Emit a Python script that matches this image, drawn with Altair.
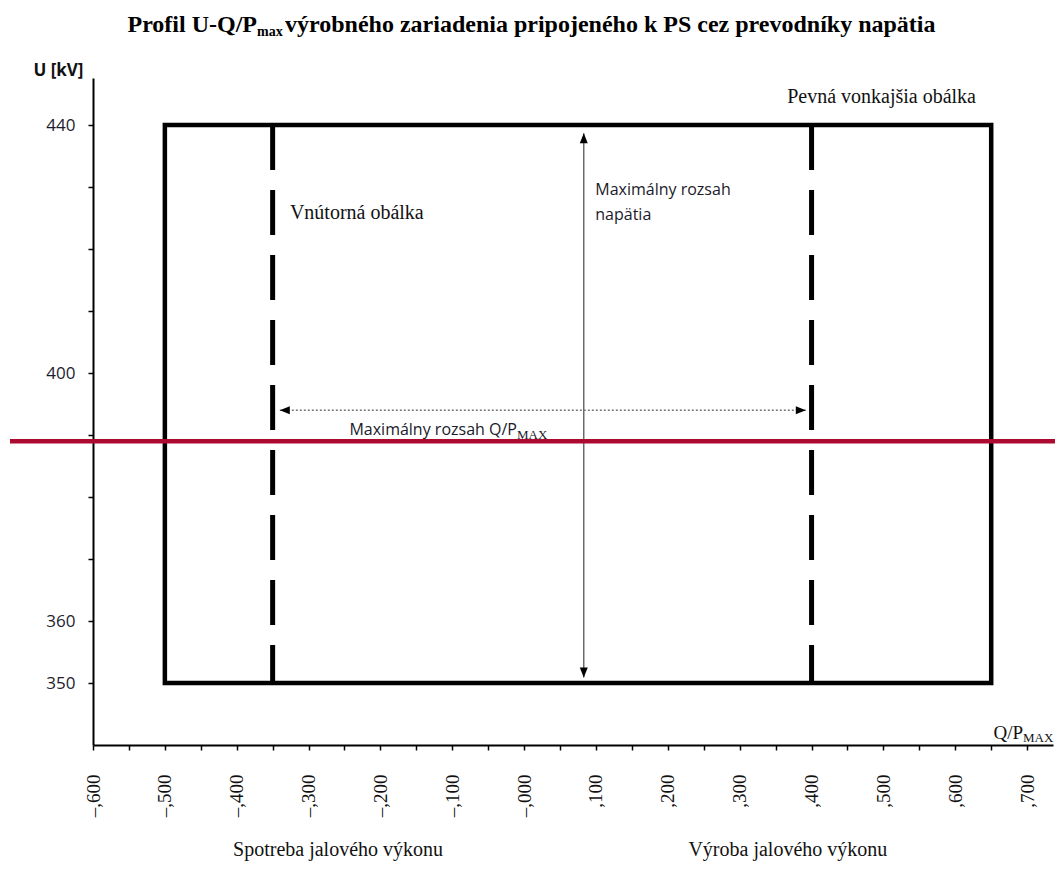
import json
import altair as alt
import pandas as pd

# ---------------- data ----------------
TITLE_MAIN = "Profil U-Q/P"
TITLE_SUB = "max"
TITLE_REST = "výrobného zariadenia pripojeného k PS cez prevodníky napätia"

Y_TICKS = [350, 360, 370, 380, 390, 400, 410, 420, 430, 440]
Y_LABELED = [440, 400, 360, 350]
X_TICKS = [-600, -550, -500, -450, -400, -350, -300, -250, -200, -150, -100, -50, 0,
           50, 100, 150, 200, 250, 300, 350, 400, 450, 500, 550, 600, 650, 700]
X_LABEL_VALUES = [-600, -500, -400, -300, -200, -100, 0, 100, 200, 300, 400, 500, 600, 700]
X_LABELS = ["–,600", "–,500", "–,400", "–,300", "–,200", "–,100", "–,000",
            ",100", ",200", ",300", ",400", ",500", ",600", ",700"]

OUTER_Q = [-500, 650]          # fixed outer envelope (Q/Pmax)
OUTER_U = [440, 350]           # fixed outer envelope (kV)
INNER_Q = [-350, 400]          # inner envelope limits
INNER_U = [440, 350]
U_ARROW_Q = [83]               # "Maximálny rozsah napätia" arrow
U_ARROW_U = [438.7, 350.9]
Q_ARROW_U = [394]              # "Maximálny rozsah Q/PMAX" arrow
Q_ARROW_Q = [-340, 392]
RED_U = [389]                  # red horizontal line

SERIF_TEXT = ["Vnútorná obálka", "Pevná vonkajšia obálka"]
SERIF_Q = [-326, 366]
SERIF_U = [425.8, 444.5]

SANS_TEXT = ["Maximálny rozsah", "napätia"]
SANS_Q = [99, 99]
SANS_U = [429.5, 425.5]

QRANGE_TEXT = ["Maximálny rozsah Q/P", "MAX"]
QRANGE_Q = [-10]
QRANGE_U = [390]

BOTTOM_TEXT = ["Spotreba jalového výkonu", "Výroba jalového výkonu"]
BOTTOM_Q = [-259, 367]

AXIS_Q_TEXT = ["Q/P", "MAX"]

W, H = 960, 667

# ---------------- scales / axes ----------------
x_scale = alt.Scale(domain=[-600, 736], nice=False, zero=False)
y_scale = alt.Scale(domain=[340, 447.6], nice=False, zero=False)

x_label_expr = (
    f"indexof({X_LABEL_VALUES}, datum.value) >= 0 ? "
    f"{json.dumps(X_LABELS, ensure_ascii=False)}[indexof({X_LABEL_VALUES}, datum.value)] : ''"
)
y_label_expr = f"indexof({Y_LABELED}, datum.value) >= 0 ? datum.label : ''"

x_axis = alt.Axis(
    values=X_TICKS, labelExpr=x_label_expr, labelAngle=270,
    labelFont="Liberation Serif", labelFontSize=19, labelColor="#111111",
    labelPadding=24, labelOverlap=False, labelFlush=False,
    tickSize=5, tickColor="black", tickWidth=1.5,
    domainColor="black", domainWidth=2, grid=False, title="",
)
y_axis = alt.Axis(
    values=Y_TICKS, labelExpr=y_label_expr,
    labelFont="Open Sans", labelFontSize=17, labelColor="#1c1c2c",
    labelPadding=13, labelOverlap=False, labelFlush=False,
    tickSize=5, tickColor="black", tickWidth=1.5,
    domainColor="black", domainWidth=2, grid=False,
    title="U [kV]", titleAngle=0, titleAlign="right", titleBaseline="middle",
    titleX=-10, titleY=-8, titleFont="Open Sans", titleFontWeight="bold",
    titleFontSize=17, titleColor="#111111",
)


def X(field):
    return alt.X(field, scale=x_scale, axis=x_axis)


def Y(field):
    return alt.Y(field, scale=y_scale, axis=y_axis)


# ---------------- layers ----------------
rect_df = pd.DataFrame({"q1": [OUTER_Q[0]], "q2": [OUTER_Q[1]],
                        "u1": [OUTER_U[0]], "u2": [OUTER_U[1]]})
outer = alt.Chart(rect_df).mark_rect(
    fillOpacity=0, stroke="black", strokeWidth=4.5, strokeJoin="miter"
).encode(x=X("q1:Q"), x2="q2:Q", y=Y("u1:Q"), y2="u2:Q")

inner_df = pd.DataFrame({"q": INNER_Q, "u1": [INNER_U[0]] * 2, "u2": [INNER_U[1]] * 2})
inner = alt.Chart(inner_df).mark_rule(
    color="black", strokeWidth=5, strokeDash=[45, 20]
).encode(x=X("q:Q"), y=Y("u1:Q"), y2="u2:Q")

red = alt.Chart(pd.DataFrame({"u": RED_U})).mark_rule(
    color="#AD0A31", strokeWidth=4.5
).encode(y=Y("u:Q"), x=alt.value(-83), x2=alt.value(W + 2))

u_line = alt.Chart(pd.DataFrame({"q": U_ARROW_Q, "u1": [U_ARROW_U[0]], "u2": [U_ARROW_U[1]]})).mark_rule(
    color="#555555", strokeWidth=1.3
).encode(x=X("q:Q"), y=Y("u1:Q"), y2="u2:Q")

q_line = alt.Chart(pd.DataFrame({"u": Q_ARROW_U, "q1": [Q_ARROW_Q[0]], "q2": [Q_ARROW_Q[1]]})).mark_rule(
    color="#777777", strokeWidth=1.6, strokeDash=[2, 2]
).encode(y=Y("u:Q"), x=X("q1:Q"), x2="q2:Q")


def arrowhead(q, u, path):
    return alt.Chart(pd.DataFrame({"q": [q], "u": [u]})).mark_point(
        shape=path, size=400, filled=True, color="black", opacity=1, strokeWidth=0
    ).encode(x=X("q:Q"), y=Y("u:Q"))


UP = "M0,0L-0.4,1L0.4,1Z"
DOWN = "M0,0L-0.4,-1L0.4,-1Z"
LEFT = "M0,0L1,-0.4L1,0.4Z"
RIGHT = "M0,0L-1,-0.4L-1,0.4Z"

heads = [
    arrowhead(U_ARROW_Q[0], U_ARROW_U[0], UP),
    arrowhead(U_ARROW_Q[0], U_ARROW_U[1], DOWN),
    arrowhead(Q_ARROW_Q[0], Q_ARROW_U[0], LEFT),
    arrowhead(Q_ARROW_Q[1], Q_ARROW_U[0], RIGHT),
]

serif_txt = alt.Chart(pd.DataFrame({"t": SERIF_TEXT, "q": SERIF_Q, "u": SERIF_U})).mark_text(
    align="left", baseline="middle", font="Liberation Serif", fontSize=20, color="#111111"
).encode(x=X("q:Q"), y=Y("u:Q"), text="t:N")

sans_txt = alt.Chart(pd.DataFrame({"t": SANS_TEXT, "q": SANS_Q, "u": SANS_U})).mark_text(
    align="left", baseline="middle", font="Open Sans", fontSize=16, color="#1a1a2a"
).encode(x=X("q:Q"), y=Y("u:Q"), text="t:N")

qrange_main = alt.Chart(pd.DataFrame({"t": [QRANGE_TEXT[0]], "q": QRANGE_Q, "u": QRANGE_U})).mark_text(
    align="right", baseline="alphabetic", font="Open Sans", fontSize=16, color="#1a1a2a"
).encode(x=X("q:Q"), y=Y("u:Q"), text="t:N")
qrange_sub = alt.Chart(pd.DataFrame({"t": [QRANGE_TEXT[1]], "q": QRANGE_Q, "u": QRANGE_U})).mark_text(
    align="left", baseline="alphabetic", font="Liberation Serif", fontSize=13, color="#1a1a2a", dy=4
).encode(x=X("q:Q"), y=Y("u:Q"), text="t:N")

bottom_txt = alt.Chart(pd.DataFrame({"t": BOTTOM_TEXT, "q": BOTTOM_Q})).mark_text(
    align="center", baseline="alphabetic", font="Liberation Serif", fontSize=20, color="#111111"
).encode(x=X("q:Q"), y=alt.value(778), text="t:N")

axis_q_main = alt.Chart(pd.DataFrame({"t": [AXIS_Q_TEXT[0]]})).mark_text(
    align="right", baseline="alphabetic", font="Liberation Serif", fontSize=19, color="#111111"
).encode(x=alt.value(930), y=alt.value(661), text="t:N")
axis_q_sub = alt.Chart(pd.DataFrame({"t": [AXIS_Q_TEXT[1]]})).mark_text(
    align="left", baseline="alphabetic", font="Liberation Serif", fontSize=13, color="#111111"
).encode(x=alt.value(930), y=alt.value(664), text="t:N")

title_main = alt.Chart(pd.DataFrame({"t": [TITLE_MAIN]})).mark_text(
    align="right", baseline="alphabetic", font="Liberation Serif", fontWeight="bold",
    fontSize=24, color="black"
).encode(x=alt.value(164), y=alt.value(-46), text="t:N")
title_sub = alt.Chart(pd.DataFrame({"t": [TITLE_SUB]})).mark_text(
    align="left", baseline="alphabetic", font="Liberation Serif", fontWeight="bold",
    fontSize=14, color="black"
).encode(x=alt.value(164), y=alt.value(-42), text="t:N")
title_rest = alt.Chart(pd.DataFrame({"t": [TITLE_REST]})).mark_text(
    align="left", baseline="alphabetic", font="Liberation Serif", fontWeight="bold",
    fontSize=24, color="black"
).encode(x=alt.value(192), y=alt.value(-46), text="t:N")

chart = alt.layer(
    outer, inner, u_line, q_line, *heads, red,
    serif_txt, sans_txt, qrange_main, qrange_sub, bottom_txt,
    axis_q_main, axis_q_sub, title_main, title_sub, title_rest,
).properties(
    width=W, height=H,
    autosize=alt.AutoSizeParams(type="none"),
    padding={"left": 85, "top": 70, "right": 2, "bottom": 117},
).configure_view(strokeWidth=0)

chart.save("out.html", embed_options={"renderer": "svg", "actions": False})
